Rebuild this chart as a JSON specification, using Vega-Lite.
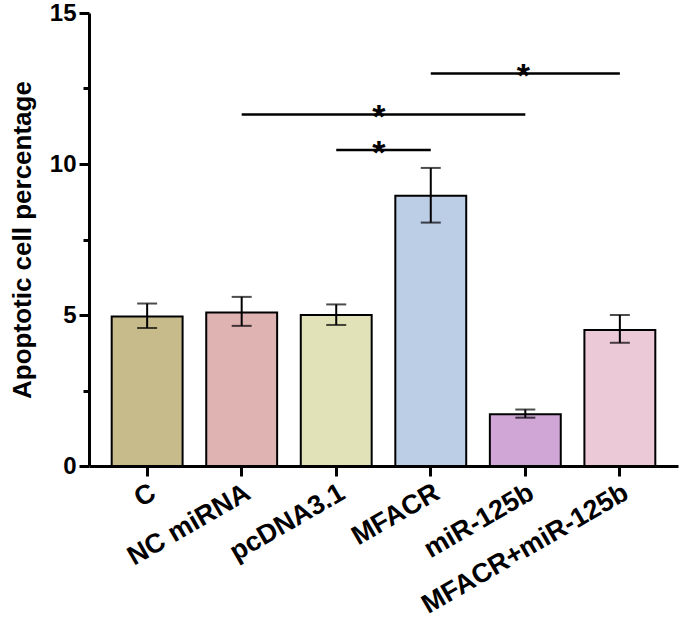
{
  "$schema": "https://vega.github.io/schema/vega-lite/v6.json",
  "width": 589,
  "height": 453,
  "autosize": {"type": "none"},
  "padding": {"left": 89, "top": 13, "right": 3, "bottom": 177},
  "background": "white",
  "config": {
    "view": {"stroke": null},
    "font": "Liberation Sans",
    "axis": {"labelFont": "Liberation Sans", "titleFont": "Liberation Sans", "labelFontWeight": "bold", "titleFontWeight": "bold", "labelColor": "black", "titleColor": "black", "domainColor": "black", "tickColor": "black", "domainWidth": 3, "tickWidth": 3, "grid": false, "labelLimit": 0}
  },
  "datasets": {
    "bars": [
      {"group": "C", "value": 4.95, "low": 4.57, "high": 5.38},
      {"group": "NC miRNA", "value": 5.08, "low": 4.64, "high": 5.6},
      {"group": "pcDNA3.1", "value": 5.0, "low": 4.67, "high": 5.35},
      {"group": "MFACR", "value": 8.95, "low": 8.06, "high": 9.87},
      {"group": "miR-125b", "value": 1.71, "low": 1.6, "high": 1.87},
      {"group": "MFACR+miR-125b", "value": 4.5, "low": 4.08, "high": 5.0}
    ],
    "sig": [
      {"from": "MFACR", "to": "MFACR+miR-125b", "y": 13.0},
      {"from": "NC miRNA", "to": "miR-125b", "y": 11.64},
      {"from": "pcDNA3.1", "to": "MFACR", "y": 10.46}
    ]
  },
  "layer": [
    {
      "data": {"name": "bars"},
      "mark": {"type": "bar", "stroke": "black", "strokeWidth": 2},
      "encoding": {
        "x": {"field": "group", "type": "nominal", "sort": null,
          "scale": {"paddingInner": 0.25, "paddingOuter": 0.24},
          "axis": {"title": null, "labelAngle": -30, "labelFontSize": 27, "tickSize": 10, "labelPadding": 3, "labelLimit": 0}},
        "y": {"field": "value", "type": "quantitative",
          "scale": {"domain": [0, 15], "nice": false},
          "axis": {"title": "Apoptotic cell percentage", "titleFontSize": 26, "titlePadding": 14,
            "values": [0, 2.5, 5, 7.5, 10, 12.5, 15],
            "labelExpr": "datum.value % 5 === 0 ? datum.label : ''",
            "tickSize": {"condition": {"test": "datum.value % 5 === 0", "value": 10}, "value": 6},
            "labelFontSize": 24, "labelPadding": 3}},
        "fill": {"field": "group", "type": "nominal", "sort": null, "legend": null,
          "scale": {"domain": ["C", "NC miRNA", "pcDNA3.1", "MFACR", "miR-125b", "MFACR+miR-125b"],
            "range": ["#c7bb8c", "#e0b3b3", "#e2e2b8", "#bccde6", "#cfa6d6", "#ebc9d6"]}}
      }
    },
    {
      "data": {"name": "bars"},
      "mark": {"type": "rule", "color": "black", "strokeWidth": 2},
      "encoding": {
        "x": {"field": "group", "type": "nominal", "sort": null},
        "y": {"field": "low", "type": "quantitative"},
        "y2": {"field": "high"}
      }
    },
    {
      "data": {"name": "bars"},
      "mark": {"type": "tick", "color": "black", "thickness": 2, "size": 20, "orient": "horizontal"},
      "encoding": {
        "x": {"field": "group", "type": "nominal", "sort": null},
        "y": {"field": "low", "type": "quantitative"}
      }
    },
    {
      "data": {"name": "bars"},
      "mark": {"type": "tick", "color": "black", "thickness": 2, "size": 20, "orient": "horizontal"},
      "encoding": {
        "x": {"field": "group", "type": "nominal", "sort": null},
        "y": {"field": "high", "type": "quantitative"}
      }
    },
    {
      "data": {"name": "sig"},
      "mark": {"type": "rule", "color": "black", "strokeWidth": 2.5},
      "encoding": {
        "x": {"field": "from", "type": "nominal", "sort": null},
        "x2": {"field": "to"},
        "y": {"field": "y", "type": "quantitative"}
      }
    },
    {
      "data": {"values": [{"at": "miR-125b", "y": 13.0}]},
      "mark": {"type": "text", "text": "*", "fontSize": 34, "fontWeight": "bold", "baseline": "alphabetic", "dy": 14, "dx": -2},
      "encoding": {
        "x": {"field": "at", "type": "nominal", "sort": null},
        "y": {"field": "y", "type": "quantitative"}
      }
    },
    {
      "data": {"values": [{"at": "MFACR", "y": 11.64}, {"at": "MFACR", "y": 10.46}]},
      "mark": {"type": "text", "text": "*", "fontSize": 34, "fontWeight": "bold", "baseline": "alphabetic", "dy": 14, "dx": -52},
      "encoding": {
        "x": {"field": "at", "type": "nominal", "sort": null},
        "y": {"field": "y", "type": "quantitative"}
      }
    }
  ]
}
